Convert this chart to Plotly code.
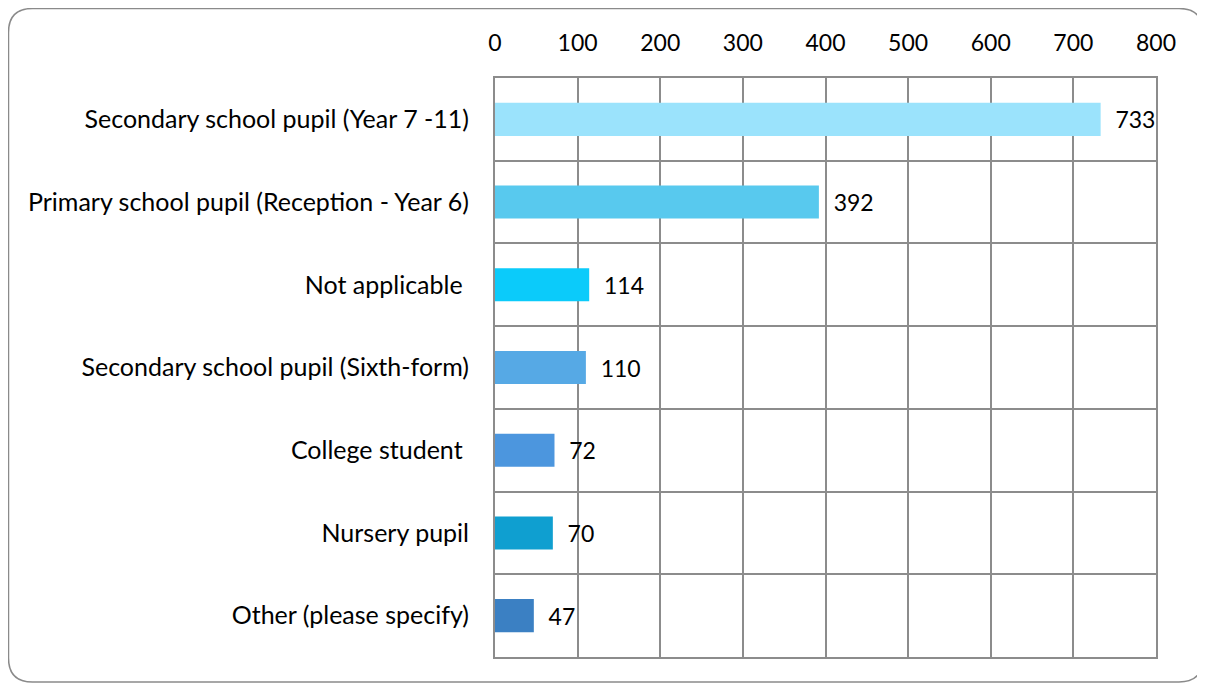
import plotly.graph_objects as go

categories = [
    "Secondary school pupil (Year 7 -11)",
    "Primary school pupil (Reception - Year 6)",
    "Not applicable ",
    "Secondary school pupil (Sixth-form)",
    "College student ",
    "Nursery pupil",
    "Other (please specify)",
]
values = [733, 392, 114, 110, 72, 70, 47]
colors = ["#9BE3FC", "#58C9EE", "#0BCBFA", "#56A9E5", "#4C96DE", "#0F9FD0", "#3B80C3"]
x_ticks = [0, 100, 200, 300, 400, 500, 600, 700, 800]

positions = list(range(len(categories)))
FONT = "Lato"

fig = go.Figure(go.Bar(
    x=values,
    y=positions,
    orientation="h",
    marker=dict(color=colors, line=dict(width=0)),
    width=0.4,
    text=[str(v) for v in values],
    texttemplate="\u00a0\u00a0%{text}",
    textposition="outside",
    textfont=dict(family=FONT, size=23, color="#000000"),
    cliponaxis=False,
))

# page is rendered with an 8px body margin
W, H = 1197, 676
ml, mr, mt, mb = 487, 49, 70, 27
pw, ph = W - ml - mr, H - mt - mb

def px2paper_x(px):
    return (px - ml) / pw

def px2paper_y(py):
    return 1 - (py - mt) / ph

x0, x1 = px2paper_x(0.5), px2paper_x(1195)
y0, y1 = px2paper_y(0.5), px2paper_y(674)
rx, ry = 24 / pw, 24 / ph
path = (
    f"M {x0 + rx},{y0} L {x1 - rx},{y0} Q {x1},{y0} {x1},{y0 - ry} "
    f"L {x1},{y1 + ry} Q {x1},{y1} {x1 - rx},{y1} "
    f"L {x0 + rx},{y1} Q {x0},{y1} {x0},{y1 + ry} "
    f"L {x0},{y0 - ry} Q {x0},{y0} {x0 + rx},{y0} Z"
)

fig.update_layout(
    width=W, height=H,
    margin=dict(l=ml, r=mr, t=mt, b=mb),
    paper_bgcolor="white",
    plot_bgcolor="white",
    showlegend=False,
    font=dict(family=FONT, size=23, color="#000000"),
    shapes=[dict(type="path", path=path, xref="paper", yref="paper",
                 line=dict(color="#8a8a8a", width=1.5), layer="below")],
    xaxis=dict(
        side="top",
        range=[0, 800],
        tickvals=x_ticks,
        ticktext=[str(t) for t in x_ticks],
        showgrid=True, gridcolor="#8c8c8c", gridwidth=2,
        showline=True, linecolor="#8c8c8c", linewidth=2, mirror=True,
        zeroline=False,
        ticks="", ticklabelstandoff=16,
        tickfont=dict(family=FONT, size=23),
    ),
    yaxis=dict(
        range=[len(categories) - 0.5, -0.5],
        tickvals=positions,
        ticktext=categories,
        showgrid=False,
        showline=True, linecolor="#8c8c8c", linewidth=2, mirror=True,
        zeroline=False,
        ticks="", ticklabelstandoff=19,
        tickfont=dict(family=FONT, size=25),
        minor=dict(tick0=0.5, dtick=1, showgrid=True, gridcolor="#8c8c8c", gridwidth=2, ticks=""),
    ),
)

fig.write_html("out.html")
